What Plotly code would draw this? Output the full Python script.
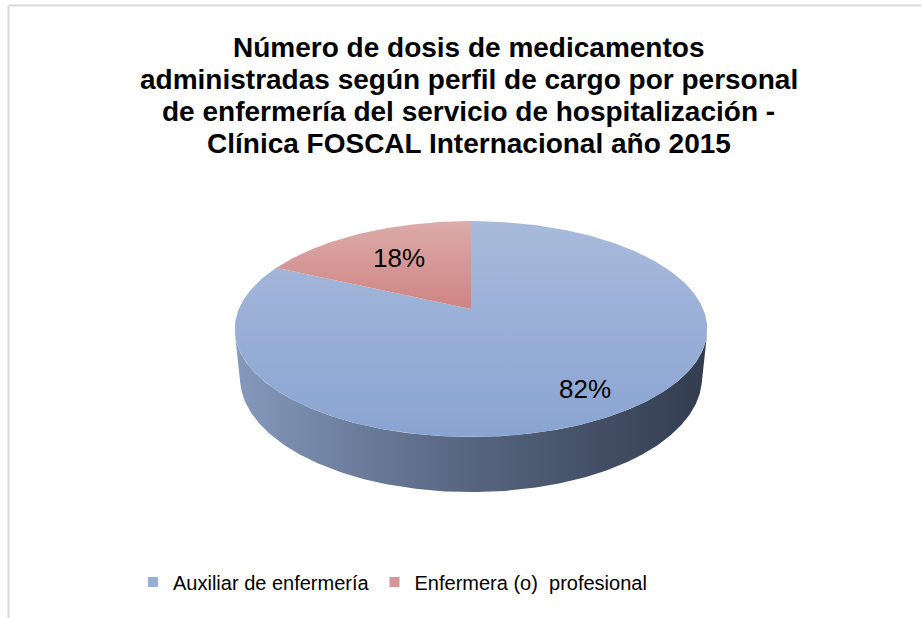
import numpy as np
import plotly.graph_objects as go

# ---- data ----
categories = ["Auxiliar de enfermería", "Enfermera (o)  profesional"]
values = [82, 18]
colors_top = [["#8aa4d2", "#a8badb"], ["#ce8482", "#dcabaa"]]
legend_colors = ["#97aed6", "#d59897"]
side_colors = [[0, "#8599bd"], [0.45, "#5a6984"], [1, "#333c4f"]]
title_lines = [
    "Número de dosis de medicamentos",
    "administradas según perfil de cargo por personal",
    "de enfermería del servicio de hospitalización -",
    "Clínica FOSCAL Internacional año 2015",
]

W, H = 921, 618
FONT = "Liberation Sans, Arial, sans-serif"

# ---- 3D projection settings (layout) ----
cx, cy = 471.0, 309.0          # projected pie centre (screen px)
phi = np.arcsin(0.449)         # camera elevation
cph, sph = np.cos(phi), np.sin(phi)
D = 4.82                       # camera distance (in pie radii)
K = 1119.0                     # focal scale
depth = 0.236                  # pie thickness (in pie radii)


def proj(X, Y, Z):
    v = Z * sph + Y * cph
    w = Z * cph - Y * sph
    sx = cx + K * X / (D + w)
    sy = cy - K * v / (D + w)
    return sx, H - sy


def ring(theta, Y=0.0, r=1.0):
    return proj(r * np.cos(theta), Y * np.ones_like(theta), r * np.sin(theta))


total = float(sum(values))
fracs = [v / total for v in values]
starts, ends = [], []
cum = 0.0
for f in fracs:
    a0 = np.pi / 2 - 2 * np.pi * cum
    a1 = np.pi / 2 - 2 * np.pi * (cum + f)
    starts.append(a0)
    ends.append(a1)
    cum += f

fig = go.Figure()

# ---- visible side wall (front) ----
lim = np.arcsin(-1.0 / (D * cph))
t_side = np.linspace(np.pi - lim, 2 * np.pi + lim, 300)
xt, yt = ring(t_side, 0.0)
xb, yb = ring(t_side[::-1], -depth)
fig.add_trace(go.Scatter(
    x=np.concatenate([xt, xb]), y=np.concatenate([yt, yb]),
    mode="lines", fill="toself", line=dict(width=0),
    fillgradient=dict(type="horizontal", colorscale=side_colors),
    hoverinfo="skip", showlegend=False))

# ---- top faces of slices ----
for i, cat in enumerate(categories):
    t = np.linspace(starts[i], ends[i], 300)
    ax, ay = ring(t, 0.0)
    c0x, c0y = proj(0.0, 0.0, 0.0)
    xs = np.concatenate([[c0x], ax, [c0x]])
    ys = np.concatenate([[c0y], ay, [c0y]])
    fig.add_trace(go.Scatter(
        x=xs, y=ys, mode="lines", fill="toself", line=dict(width=0),
        fillgradient=dict(type="vertical",
                          colorscale=[[0, colors_top[i][0]], [1, colors_top[i][1]]]),
        hoverinfo="skip", showlegend=False))

# ---- percentage labels ----
label_r = [0.80, 0.64]
for i, v in enumerate(values):
    mid = (starts[i] + ends[i]) / 2
    lx, ly = ring(np.array([mid]), 0.0, label_r[i])
    fig.add_annotation(x=float(lx[0]), y=float(ly[0]), text=f"{round(100 * fracs[i])}%",
                       showarrow=False, font=dict(family=FONT, size=26, color="#000000"))

# ---- legend entries ----
for i, cat in enumerate(categories):
    fig.add_trace(go.Scatter(x=[None], y=[None], mode="markers", name=cat,
                             marker=dict(symbol="square", size=10, color=legend_colors[i])))

# ---- title (Excel-like tight line spacing) ----
for j, line in enumerate(title_lines):
    fig.add_annotation(x=468.5, y=H - (47 + 32 * j), text=f"<b>{line}</b>", showarrow=False,
                       yanchor="middle", xanchor="center",
                       font=dict(family=FONT, size=28, color="#000000"))

fig.update_layout(
    width=W, height=H,
    margin=dict(l=0, r=0, t=0, b=0),
    paper_bgcolor="#ffffff", plot_bgcolor="#ffffff",
    xaxis=dict(range=[0, W], visible=False, fixedrange=True),
    yaxis=dict(range=[0, H], visible=False, fixedrange=True),
    showlegend=True,
    legend=dict(orientation="h", x=0.5 - 68 / W, xanchor="center", y=(H - 582) / H, yanchor="middle",
                font=dict(family=FONT, size=20, color="#000000"), itemwidth=30,
                bgcolor="rgba(0,0,0,0)"),
    shapes=[
        dict(type="line", xref="paper", yref="paper", x0=8.5 / W, x1=1, y0=1 - 5.5 / H, y1=1 - 5.5 / H,
             line=dict(color="#d9d9d9", width=2)),
        dict(type="line", xref="paper", yref="paper", x0=8.5 / W, x1=8.5 / W, y0=0, y1=1 - 5.5 / H,
             line=dict(color="#d9d9d9", width=2)),
    ],
)

fig.write_html("out.html", config={"displayModeBar": False},
               post_script="document.body.style.margin='0';document.body.style.overflow='hidden';")
